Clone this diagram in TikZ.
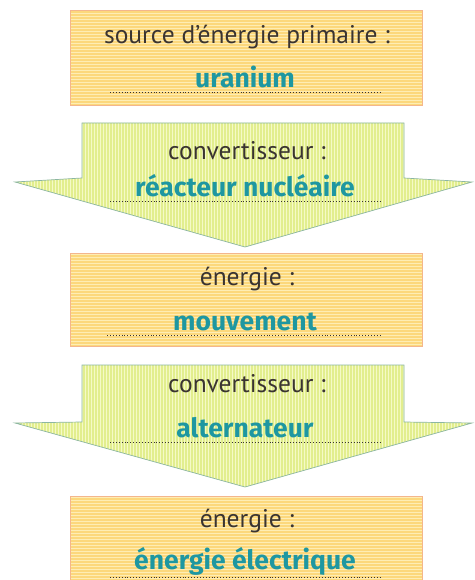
\documentclass[tikz,border=0pt]{standalone}
\usepackage{fontspec}
\setmainfont{PT Sans}
\newfontfamily\answerfont{Fira Sans}
\definecolor{boxfill}{HTML}{FCD87C}
\definecolor{boxstripe}{HTML}{FEEDB4}
\definecolor{boxedge}{HTML}{F4B68C}
\definecolor{arrowfill}{HTML}{E2EE8E}
\definecolor{arrowstripe}{HTML}{F5FAC6}
\definecolor{arrowedge}{HTML}{8CB6A2}
\definecolor{labeltext}{HTML}{3A3431}
\definecolor{answertext}{HTML}{1E97A1}
\tikzset{
  labeltxt/.style={anchor=base, inner sep=0pt, text=labeltext, font=\fontsize{25.5}{27}\selectfont},
  answertxt/.style={anchor=base, inner sep=0pt, text=answertext, font=\answerfont\bfseries\fontsize{26.5}{28}\selectfont},
  dotline/.style={dotted, line width=0.9pt, draw=labeltext},
  boxedgeline/.style={draw=boxedge, line width=0.7pt},
  arrowedgeline/.style={draw=arrowedge, line width=0.7pt},
}
\begin{document}
\begin{tikzpicture}[x=1pt,y=-1pt]
\useasboundingbox (0,0) rectangle (474,580);
\clip (0,0) rectangle (474,580);
% ---------- box 1
\fill[boxfill] (70,10) rectangle (422,105);
\begin{scope}
  \clip (70,10) rectangle (422,105);
  \foreach \yy in {11,14,...,104} \draw[boxstripe, line width=1pt] (70,\yy) -- (422,\yy);
\end{scope}
\draw[boxedgeline] (70,10) rectangle (422,105);
% ---------- arrow 1
\fill[arrowfill] (82,123) -- (404,123) -- (404,178) -- (472,182) -- (245,247) -- (15,182) -- (82,178) -- cycle;
\begin{scope}
  \clip (82,123) -- (404,123) -- (404,178) -- (472,182) -- (245,247) -- (15,182) -- (82,178) -- cycle;
  \foreach \xx in {16,19,...,472} \draw[arrowstripe, line width=1pt] (\xx,120) -- (\xx,250);
\end{scope}
\draw[arrowedgeline] (82,123) -- (404,123) -- (404,178) -- (472,182) -- (245,247) -- (15,182) -- (82,178) -- cycle;
% ---------- box 2
\fill[boxfill] (70,253) rectangle (422,346);
\begin{scope}
  \clip (70,253) rectangle (422,346);
  \foreach \yy in {254,257,...,346} \draw[boxstripe, line width=1pt] (70,\yy) -- (422,\yy);
\end{scope}
\draw[boxedgeline] (70,253) rectangle (422,346);
% ---------- arrow 2
\fill[arrowfill] (82,365) -- (404,365) -- (404,422) -- (472,423) -- (245,487) -- (15,423) -- (82,422) -- cycle;
\begin{scope}
  \clip (82,365) -- (404,365) -- (404,422) -- (472,423) -- (245,487) -- (15,423) -- (82,422) -- cycle;
  \foreach \xx in {16,19,...,472} \draw[arrowstripe, line width=1pt] (\xx,360) -- (\xx,490);
\end{scope}
\draw[arrowedgeline] (82,365) -- (404,365) -- (404,422) -- (472,423) -- (245,487) -- (15,423) -- (82,422) -- cycle;
% ---------- box 3
\fill[boxfill] (70,496) rectangle (422,590);
\begin{scope}
  \clip (70,496) rectangle (422,590);
  \foreach \yy in {497,500,...,590} \draw[boxstripe, line width=1pt] (70,\yy) -- (422,\yy);
\end{scope}
\draw[boxedgeline] (70,496) rectangle (422,590);
% ---------- texts
\node[labeltxt] (t1) at (247,44) {source d’énergie primaire :};
\node[answertxt] (a1) at (245,88) {uranium};
\coordinate (d1l) at (110,92); \coordinate (d1r) at (382,92);
\draw[dotline] (d1l) -- (d1r);

\node[labeltxt] (t2) at (247,160) {convertisseur :};
\node[answertxt] (a2) at (245,196) {réacteur nucléaire};
\coordinate (d2l) at (110,201); \coordinate (d2r) at (382,201);
\draw[dotline] (d2l) -- (d2r);

\node[labeltxt] (t3) at (247,285) {énergie :};
\node[answertxt] (a3) at (245,330) {mouvement};
\coordinate (d3l) at (107,335); \coordinate (d3r) at (381,335);
\draw[dotline] (d3l) -- (d3r);

\node[labeltxt] (t4) at (247,392) {convertisseur :};
\node[answertxt] (a4) at (245,437) {alternateur};
\coordinate (d4l) at (110,442); \coordinate (d4r) at (381,442);
\draw[dotline] (d4l) -- (d4r);

\node[labeltxt] (t5) at (247,527) {énergie :};
\node[answertxt] (a5) at (245,569) {énergie électrique};
\coordinate (d5l) at (110,577); \coordinate (d5r) at (381,577);
\draw[dotline] (d5l) -- (d5r);
\end{tikzpicture}
\end{document}
